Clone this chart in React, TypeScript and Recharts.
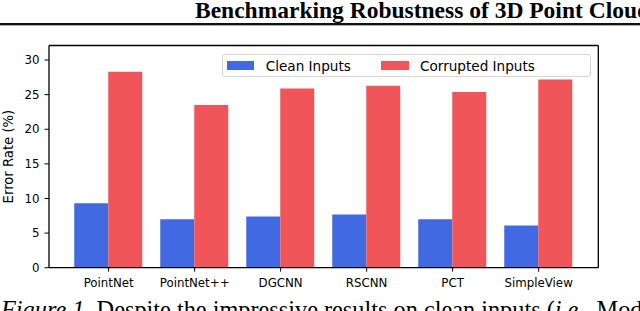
import React from 'react';
import { BarChart, Bar, XAxis, YAxis, Legend, CartesianGrid } from 'recharts';

const models = ['PointNet', 'PointNet++', 'DGCNN', 'RSCNN', 'PCT', 'SimpleView'];
const cleanErr = [9.3, 7.0, 7.4, 7.7, 7.0, 6.1];
const corruptErr = [28.3, 23.5, 25.9, 26.3, 25.4, 27.2];
const yTicks = [0, 5, 10, 15, 20, 25, 30];
const seriesNames = ['Clean Inputs', 'Corrupted Inputs'];
const colors = ['#4169E1', '#F0555A'];

const data = models.map((m, i) => ({ name: m, clean: cleanErr[i], corrupted: corruptErr[i] }));

const SANS = 'DejaVu Sans';
const SERIF = 'Liberation Serif';

const renderLegend = (props: any) => {
  const payload = props.payload || [];
  return (
    <div
      style={{
        boxSizing: 'border-box',
        width: 369.3,
        height: 23.3,
        border: '1px solid #d6d6d6',
        borderRadius: 3,
        background: 'rgba(255,255,255,0.85)',
        position: 'relative',
        fontFamily: SANS,
        fontSize: 13.6,
        color: '#000',
      }}
    >
      {payload.map((e: any, i: number) => (
        <div
          key={i}
          style={{
            position: 'absolute',
            left: i === 0 ? 4 : 158.3,
            top: 0,
            height: '100%',
            display: 'flex',
            alignItems: 'center',
            whiteSpace: 'nowrap',
          }}
        >
          <span style={{ display: 'inline-block', width: 27.6, height: 9.3, background: e.color, marginRight: 11.4, marginTop: -1 }} />
          <span>{e.value}</span>
        </div>
      ))}
    </div>
  );
};

const YLabel = (props: any) => {
  const vb = props.viewBox || { y: 45.5, height: 222.2 };
  const cy = vb.y + vb.height / 2;
  const x = 13.3;
  return (
    <text x={x} y={cy} transform={`rotate(-90 ${x} ${cy})`} textAnchor="middle" fontFamily={SANS} fontSize={13.2} fill="#000">
      Error Rate (%)
    </text>
  );
};

export default function App() {
  return (
    <div style={{ position: 'absolute', left: 0, top: 0, width: 640, height: 311, background: '#fff', overflow: 'hidden' }}>
      <BarChart
        width={640}
        height={311}
        data={data}
        margin={{ top: 45.5, right: 41.7, bottom: 18.3, left: 0 }}
        barCategoryGap="10%"
        barGap={0}
      >
        <CartesianGrid
          stroke="#000"
          strokeWidth={1.3}
          horizontalCoordinatesGenerator={(p: any) => [p.offset.top]}
          verticalCoordinatesGenerator={(p: any) => [p.offset.left + p.offset.width]}
        />
        <XAxis
          dataKey="name"
          height={25}
          interval={0}
          padding={{ left: 16.65, right: 16.65 }}
          tick={{ fontSize: 11.8, fill: '#000', fontFamily: SANS }}
          tickLine={{ stroke: '#000', strokeWidth: 1 }}
          axisLine={{ stroke: '#000', strokeWidth: 1.3 }}
          tickSize={4}
          tickMargin={7}
        />
        <YAxis
          domain={[0, 32.1]}
          ticks={yTicks}
          width={49}
          allowDataOverflow
          tick={{ fontSize: 11.8, fill: '#000', fontFamily: SANS }}
          tickLine={{ stroke: '#000', strokeWidth: 1 }}
          axisLine={{ stroke: '#000', strokeWidth: 1.3 }}
          tickSize={4.5}
          tickMargin={5}
          label={<YLabel />}
        />
        <Legend
          layout="horizontal"
          verticalAlign="middle"
          align="center"
          content={renderLegend}
          wrapperStyle={{ left: 221.7, top: 54, width: 369.3, height: 23.3 }}
        />
        <Bar dataKey="clean" name={seriesNames[0]} fill={colors[0]} isAnimationActive={false} />
        <Bar dataKey="corrupted" name={seriesNames[1]} fill={colors[1]} isAnimationActive={false} />
      </BarChart>
      <svg width={640} height={311} style={{ position: 'absolute', left: 0, top: 0, pointerEvents: 'none' }}>
        <text x={195} y={17.5} fontFamily={SERIF} fontWeight="bold" fontSize={23.5} fill="#000">
          Benchmarking Robustness of 3D Point Cloud Recognition
        </text>
        <rect x={0} y={23} width={640} height={2} fill="#111" />
        <rect x={0} y={25} width={640} height={1} fill="#aaa" />
        <text x={1} y={318} fontFamily={SERIF} fontSize={24.3} fill="#000">
          <tspan fontStyle="italic">Figure 1.</tspan>
          <tspan> Despite the impressive results on clean inputs (</tspan>
          <tspan fontStyle="italic">i.e.</tspan>
          <tspan>, ModelNet40</tspan>
        </text>
      </svg>
    </div>
  );
}
